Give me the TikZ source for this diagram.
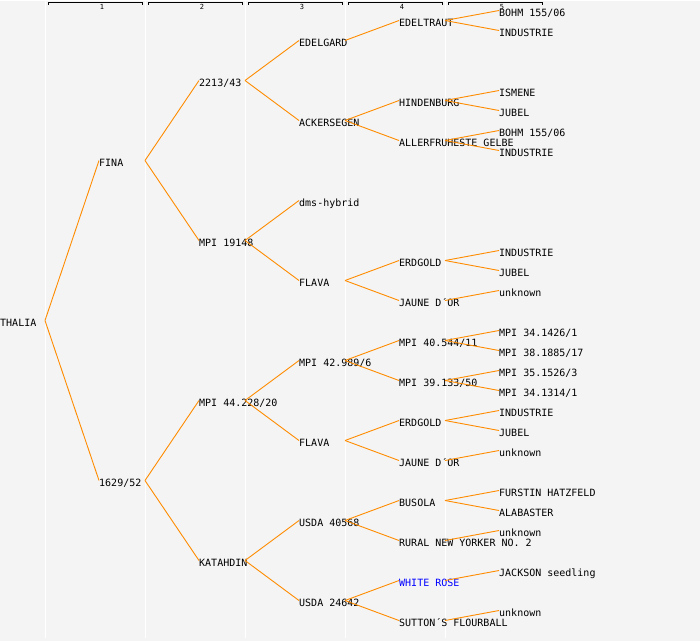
\documentclass[tikz,border=0pt]{standalone}
\usepackage{fontspec}
\newfontfamily\pedfont{DejaVu Sans Mono}
\definecolor{bgrey}{HTML}{F4F4F4}
\definecolor{edgeorange}{HTML}{FF8C00}
\begin{document}
\begin{tikzpicture}
  [x=1pt,y=-1pt,every node/.style={anchor=west,inner sep=0pt,text height=12pt,text depth=0pt,font=\pedfont\fontsize{10}{12}\selectfont}]
  \tikzstyle{edge} = [draw=edgeorange,line width=0.9pt]
  \tikzstyle{colnum} = [anchor=center,text height=5pt,font=\pedfont\fontsize{7}{8}\selectfont]
  \tikzstyle{marked} = [text=blue]
  \fill[bgrey] (0,0) rectangle (700,640);
  % generation columns
  \foreach \i in {1,...,5} {
   \draw[white,line width=1pt] (100*\i-55,0) -- (100*\i-55,637);
   \draw[line width=1pt] (100*\i-52,4) -- (100*\i-52,1.5) -- (100*\i+42,1.5) -- (100*\i+42,4);
   \node[colnum] (h\i) at (100*\i+2,6) {\i};
  }
  % pedigree, node k has parents 2k and 2k+1
  \node (n1) at (0,320) {THALIA};
  \node (n2) at (99,160) {FINA};
  \node (n3) at (99,480) {1629/52};
  \node (n4) at (199,80)  {2213/43};
  \node (n5) at (199,240) {MPI 19148};
  \node (n6) at (199,400) {MPI 44.228/20};
  \node (n7) at (199,560) {KATAHDIN};
  \node (n8)  at (299,40)  {EDELGARD};
  \node (n9)  at (299,120) {ACKERSEGEN};
  \node (n10) at (299,200) {dms-hybrid};
  \node (n11) at (299,280) {FLAVA};
  \node (n12) at (299,360) {MPI 42.989/6};
  \node (n13) at (299,440) {FLAVA};
  \node (n14) at (299,520) {USDA 40568};
  \node (n15) at (299,600) {USDA 24642};
  \node (n16) at (399,20)  {EDELTRAUT};
  \node (n18) at (399,100) {HINDENBURG};
  \node (n19) at (399,140) {ALLERFRUHESTE GELBE};
  \node (n22) at (399,260) {ERDGOLD};
  \node (n23) at (399,300) {JAUNE D´OR};
  \node (n24) at (399,340) {MPI 40.544/11};
  \node (n25) at (399,380) {MPI 39.133/50};
  \node (n26) at (399,420) {ERDGOLD};
  \node (n27) at (399,460) {JAUNE D´OR};
  \node (n28) at (399,500) {BUSOLA};
  \node (n29) at (399,540) {RURAL NEW YORKER NO. 2};
  \node[marked] (n30) at (399,580) {WHITE ROSE};
  \node (n31) at (399,620) {SUTTON´S FLOURBALL};
  \node (n32) at (499,10)  {BOHM 155/06};
  \node (n33) at (499,30)  {INDUSTRIE};
  \node (n36) at (499,90)  {ISMENE};
  \node (n37) at (499,110) {JUBEL};
  \node (n38) at (499,130) {BOHM 155/06};
  \node (n39) at (499,150) {INDUSTRIE};
  \node (n44) at (499,250) {INDUSTRIE};
  \node (n45) at (499,270) {JUBEL};
  \node (n46) at (499,290) {unknown};
  \node (n48) at (499,330) {MPI 34.1426/1};
  \node (n49) at (499,350) {MPI 38.1885/17};
  \node (n50) at (499,370) {MPI 35.1526/3};
  \node (n51) at (499,390) {MPI 34.1314/1};
  \node (n52) at (499,410) {INDUSTRIE};
  \node (n53) at (499,430) {JUBEL};
  \node (n54) at (499,450) {unknown};
  \node (n56) at (499,490) {FURSTIN HATZFELD};
  \node (n57) at (499,510) {ALABASTER};
  \node (n58) at (499,530) {unknown};
  \node (n60) at (499,570) {JACKSON seedling};
  \node (n62) at (499,610) {unknown};
  \foreach \dest in {n2,n3}
   \draw[edge] ([xshift=45pt]n1.west) -- (\dest.west);
  \foreach \source /\dest in {n2/n4,n2/n5,n3/n6,n3/n7,n4/n8,n4/n9,n5/n10,n5/n11,n6/n12,n6/n13,n7/n14,n7/n15,
    n8/n16,n9/n18,n9/n19,n11/n22,n11/n23,n12/n24,n12/n25,n13/n26,n13/n27,n14/n28,n14/n29,n15/n30,n15/n31,
    n16/n32,n16/n33,n18/n36,n18/n37,n19/n38,n19/n39,n22/n44,n22/n45,n23/n46,n24/n48,n24/n49,n25/n50,n25/n51,
    n26/n52,n26/n53,n27/n54,n28/n56,n28/n57,n29/n58,n30/n60,n31/n62}
   \draw[edge] ([xshift=46pt]\source.west) -- (\dest.west);
\end{tikzpicture}
\end{document}
